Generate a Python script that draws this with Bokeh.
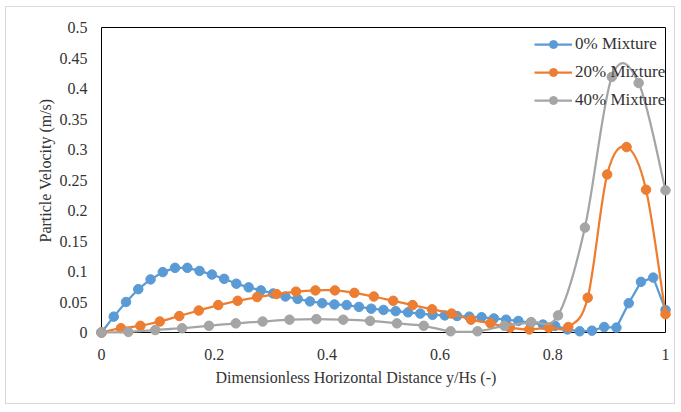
from bokeh.plotting import figure
from bokeh.models import Range1d, FixedTicker, Legend, LegendItem, Title
from bokeh.embed import file_html
from bokeh.resources import INLINE

# ---------------- data ----------------
SERIES_NAMES = ["0% Mixture", "20% Mixture", "40% Mixture"]
SERIES_COLORS = ["#5B9BD5", "#ED7D31", "#A5A5A5"]

X_TICKS = [0, 0.2, 0.4, 0.6, 0.8, 1]
X_TICK_LABELS = ["0", "0.2", "0.4", "0.6", "0.8", "1"]
Y_TICKS = [0, 0.05, 0.1, 0.15, 0.2, 0.25, 0.3, 0.35, 0.4, 0.45, 0.5]
Y_TICK_LABELS = ["0", "0.05", "0.1", "0.15", "0.2", "0.25", "0.3", "0.35", "0.4", "0.45", "0.5"]

X_TITLE = "Dimensionless Horizontal Distance y/Hs (-)"
Y_TITLE = "Particle Velocity (m/s)"

# 0% Mixture
x_0 = [0, 0.0217, 0.0435, 0.0652, 0.0870, 0.1087, 0.1304, 0.1522, 0.1739, 0.1957,
       0.2174, 0.2391, 0.2609, 0.2826, 0.3043, 0.3261, 0.3478, 0.3696, 0.3913, 0.4130,
       0.4348, 0.4565, 0.4783, 0.5, 0.5217, 0.5435, 0.5652, 0.5870, 0.6087, 0.6304,
       0.6522, 0.6739, 0.6957, 0.7174, 0.7391, 0.7609, 0.7826, 0.8043, 0.8261, 0.8478,
       0.8696, 0.8913, 0.9130, 0.9348, 0.9565, 0.9783, 1.0]
y_0 = [0, 0.026, 0.050, 0.071, 0.087, 0.099, 0.106, 0.106, 0.101, 0.095,
       0.088, 0.080, 0.074, 0.069, 0.064, 0.059, 0.055, 0.051, 0.048, 0.046,
       0.045, 0.042, 0.039, 0.037, 0.035, 0.033, 0.031, 0.029, 0.028, 0.027,
       0.026, 0.025, 0.023, 0.021, 0.019, 0.016, 0.013, 0.011, 0.005, 0.002,
       0.003, 0.009, 0.008, 0.048, 0.083, 0.090, 0.037]

# 20% Mixture
x_20 = [0, 0.0345, 0.0690, 0.1034, 0.1379, 0.1724, 0.2069, 0.2414, 0.2759, 0.3103,
        0.3448, 0.3793, 0.4138, 0.4483, 0.4828, 0.5172, 0.5517, 0.5862, 0.6207, 0.6552,
        0.6897, 0.7241, 0.7586, 0.7931, 0.8276, 0.8621, 0.8966, 0.9310, 0.9655, 1.0]
y_20 = [0, 0.007, 0.011, 0.018, 0.027, 0.036, 0.045, 0.052, 0.058, 0.063,
        0.067, 0.069, 0.069, 0.065, 0.059, 0.052, 0.045, 0.038, 0.031, 0.021,
        0.015, 0.008, 0.005, 0.008, 0.009, 0.057, 0.259, 0.304, 0.234, 0.030]

# 40% Mixture
x_40 = [0, 0.0476, 0.0952, 0.1429, 0.1905, 0.2381, 0.2857, 0.3333, 0.3810, 0.4286,
        0.4762, 0.5238, 0.5714, 0.6190, 0.6667, 0.7143, 0.7619, 0.8095, 0.8571, 0.9048,
        0.9524, 1.0]
y_40 = [0, 0.001, 0.004, 0.007, 0.011, 0.015, 0.018, 0.021, 0.022, 0.021,
        0.019, 0.015, 0.011, 0.002, 0.002, 0.011, 0.017, 0.028, 0.172, 0.419,
        0.409, 0.233]

SMOOTHED = [False, True, True]

# ---------------- layout ----------------
# outer chart border (light grey) sits 5-6 px inside the window
OFF_X, OFF_Y = 6, 7          # content origin inside the border
W, H = 670, 398              # content size inside the border
# frame positions in window pixels
FRAME_L, FRAME_R, FRAME_T, FRAME_B = 94, 672, 20, 339
X_MIN, X_MAX, Y_MIN, Y_MAX = 0, 1, 0, 0.5
PX_PER_X = 564.0
PX_PER_Y = 610.0
xpad = ((FRAME_R - FRAME_L) / PX_PER_X - (X_MAX - X_MIN)) / 2
ypad = ((FRAME_B - FRAME_T) / PX_PER_Y - (Y_MAX - Y_MIN)) / 2

FONT = "Liberation Serif"
TXT = "#333333"

p = figure(width=W, height=H, output_backend="svg", toolbar_location=None,
           x_range=Range1d(X_MIN - xpad, X_MAX + xpad),
           y_range=Range1d(Y_MIN - ypad, Y_MAX + ypad),
           min_border_left=FRAME_L - OFF_X,
           min_border_right=(OFF_X + W) - FRAME_R,
           min_border_top=FRAME_T - OFF_Y,
           min_border_bottom=(OFF_Y + H) - FRAME_B,
           margin=(OFF_Y - 1, 0, 0, OFF_X - 1))
p.styles = {"border": "1px solid #d9d9d9"}
p.outline_line_color = None
p.grid.visible = False
p.background_fill_color = "white"
p.border_fill_color = "white"

for ax in (p.xaxis[0], p.yaxis[0]):
    ax.axis_line_color = None
    ax.major_tick_line_color = None
    ax.minor_tick_line_color = None
    ax.major_tick_out = 0
    ax.major_tick_in = 0
    ax.minor_tick_out = 0
    ax.major_label_text_font = FONT
    ax.major_label_text_font_size = "16px"
    ax.major_label_text_color = TXT

p.xaxis.ticker = FixedTicker(ticks=X_TICKS)
p.xaxis.major_label_overrides = dict(zip(X_TICKS, X_TICK_LABELS))
p.xaxis.major_label_standoff = 9
p.yaxis.ticker = FixedTicker(ticks=Y_TICKS)
p.yaxis.major_label_overrides = dict(zip(Y_TICKS, Y_TICK_LABELS))
p.yaxis.major_label_standoff = 7

# plot-area frame at the axis limits
p.quad(left=[X_MIN], right=[X_MAX], bottom=[Y_MIN], top=[Y_MAX],
       fill_color=None, line_color="black", line_width=1)


def smooth(xs, ys):
    n = len(xs)
    seg = dict(x0=[], y0=[], x1=[], y1=[], cx0=[], cy0=[], cx1=[], cy1=[])
    for i in range(n - 1):
        a = i - 1 if i > 0 else i
        b = i + 2 if i + 2 < n else i + 1
        seg["x0"].append(xs[i]); seg["y0"].append(ys[i])
        seg["x1"].append(xs[i + 1]); seg["y1"].append(ys[i + 1])
        seg["cx0"].append(xs[i] + (xs[i + 1] - xs[a]) / 6)
        seg["cy0"].append(ys[i] + (ys[i + 1] - ys[a]) / 6)
        seg["cx1"].append(xs[i + 1] - (xs[b] - xs[i]) / 6)
        seg["cy1"].append(ys[i + 1] - (ys[b] - ys[i]) / 6)
    return seg


items = []
for name, color, xs, ys, sm in zip(SERIES_NAMES, SERIES_COLORS,
                                     [x_0, x_20, x_40], [y_0, y_20, y_40], SMOOTHED):
    if sm:
        r_line = p.bezier(line_color=color, line_width=2.25, **smooth(xs, ys))
    else:
        r_line = p.line(xs, ys, line_color=color, line_width=2.25)
    r_pts = p.scatter(xs, ys, size=9.5, fill_color=color, line_color=color)
    items.append(LegendItem(label=name, renderers=[r_line, r_pts]))

legend = Legend(items=items, location=(440, 229), orientation="vertical",
                background_fill_alpha=0, border_line_alpha=0, padding=0, margin=0,
                spacing=8, label_height=20, glyph_height=20, glyph_width=38,
                label_standoff=3, label_text_font=FONT, label_text_font_size="17px",
                label_text_color=TXT)
p.add_layout(legend, "center")

p.add_layout(Title(text=X_TITLE, align="left", offset=121, text_font=FONT,
                   text_font_size="16px", text_font_style="normal",
                   text_color=TXT, standoff=9), "below")
p.add_layout(Title(text=Y_TITLE, align="left", offset=97, text_font=FONT,
                   text_font_size="16px", text_font_style="normal",
                   text_color=TXT, standoff=6), "left")

open("out.html", "w").write(file_html(p, INLINE))
